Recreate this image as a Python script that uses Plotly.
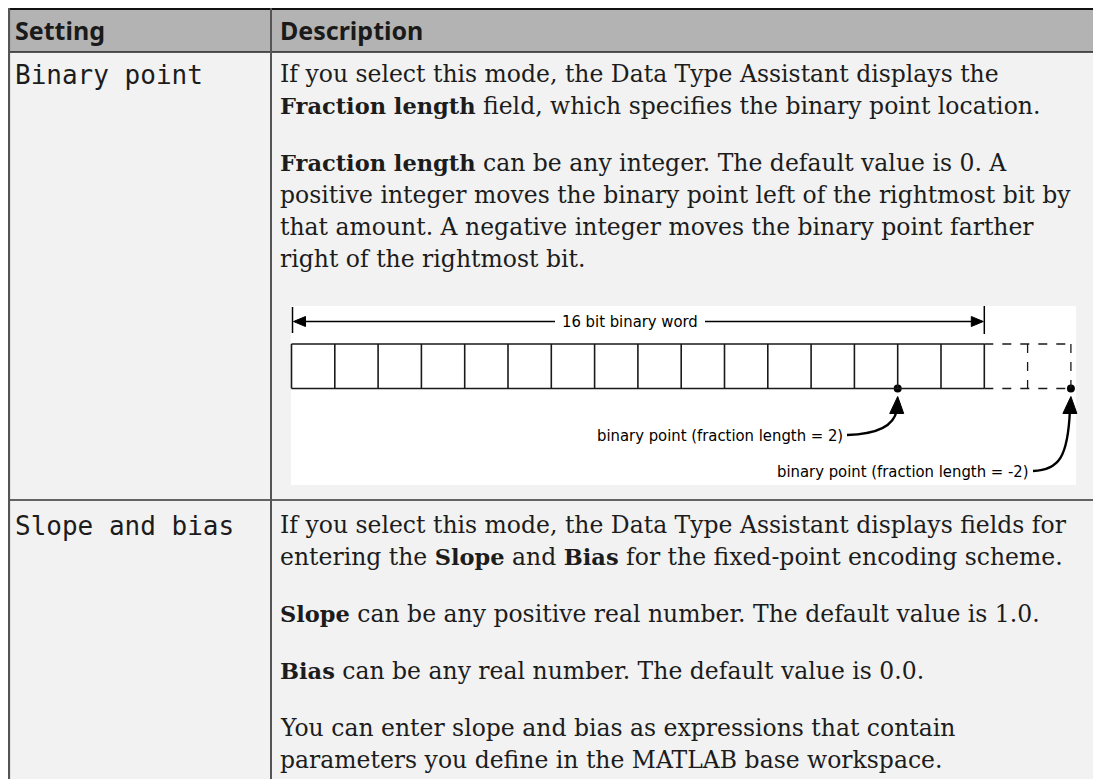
import plotly.graph_objects as go

# ---------------- data ----------------
headers = ["Setting", "Description"]
settings = ["Binary point", "Slope and bias"]

row1_lines = [
    "If you select this mode, the Data Type Assistant displays the",
    "<b>Fraction length</b> field, which specifies the binary point location.",
    None,
    "<b>Fraction length</b> can be any integer. The default value is 0. A",
    "positive integer moves the binary point left of the rightmost bit by",
    "that amount. A negative integer moves the binary point farther",
    "right of the rightmost bit.",
]
row2_lines = [
    "If you select this mode, the Data Type Assistant displays fields for",
    "entering the <b>Slope</b> and <b>Bias</b> for the fixed-point encoding scheme.",
    None,
    "<b>Slope</b> can be any positive real number. The default value is 1.0.",
    None,
    "<b>Bias</b> can be any real number. The default value is 0.0.",
    None,
    "You can enter slope and bias as expressions that contain",
    "parameters you define in the MATLAB base workspace.",
]

word_bits = 16
extra_bits = 2
fraction_lengths = [2, -2]
word_label = "16 bit binary word"
point_labels = ["binary point (fraction length = 2)", "binary point (fraction length = -2)"]

# ---------------- layout constants (page pixel coordinates) ----------------
W, H = 1101, 779
PAGE_OFF = 8           # default body margin of the html page
TL, TT = 8, 8
HDR_B = 52
COL = 271
ROW_B = 500
TXT_X = 278
SET_X = 13
LINE = 32
PARA = 25

serif = "DejaVu Serif"
mono = "DejaVu Sans Mono"
sans = "Noto Sans"
diag_font = "Liberation Sans Narrow, DejaVu Sans Condensed, sans-serif"
txt_col = "#1c1c1c"
FS = 23.5
FS_BOLD = 22.5

shapes = []
annotations = []

def line(x0, y0, x1, y1, color="#000", width=1.5, dash="solid"):
    shapes.append(dict(type="line", xref="x", yref="y", x0=x0, y0=y0, x1=x1, y1=y1,
                       line=dict(color=color, width=width, dash=dash), layer="above"))

def rect(x0, y0, x1, y1, fill, layer="below"):
    shapes.append(dict(type="rect", xref="x", yref="y", x0=x0, y0=y0, x1=x1, y1=y1,
                       fillcolor=fill, line=dict(color=fill, width=0), layer=layer))

def path(d, fill=None, lc="#000", lw=1.5):
    s = dict(type="path", xref="x", yref="y", path=d, line=dict(color=lc, width=lw), layer="above")
    if fill:
        s["fillcolor"] = fill
    shapes.append(s)

def text(x, y, t, font, size, color=txt_col, xanchor="left", bold=False):
    annotations.append(dict(x=x, y=y, xref="x", yref="y", text=(f"<b>{t}</b>" if bold else t),
                            showarrow=False, xanchor=xanchor, yanchor="middle",
                            font=dict(family=font, size=size, color=color)))

# backgrounds
rect(TL, TT, W, HDR_B, "#b3b3b3")
rect(TL, HDR_B, W, H, "#f2f2f2")

# borders
line(TL, TT + 1, W, TT + 1, "#111", 2)
line(TL, HDR_B, W, HDR_B, "#222", 1.6)
line(TL, ROW_B, W, ROW_B, "#333", 1.6)
line(TL + 1, TT, TL + 1, H, "#555", 2.2)
line(COL, TT, COL, H, "#555", 2)

# headers
text(SET_X, 30, headers[0], sans, 25, "#1a1a1a", bold=True)
text(TXT_X, 30, headers[1], sans, 25, "#1a1a1a", bold=True)

# setting names
text(SET_X, 75, settings[0], mono, 26)
text(SET_X, 526, settings[1], mono, 26)

def body(lines, y0):
    y = y0
    for ln in lines:
        if ln is None:
            y += PARA
            continue
        t = ln.replace("<b>", f'<b><span style="font-size:{FS_BOLD}px">').replace("</b>", "</span></b>")
        text(TXT_X, y, t, serif, FS)
        y += LINE

body(row1_lines, 74)
body(row2_lines, 525)

# ---------------- diagram ----------------
BX0, BY0, BX1, BY1 = 291, 306, 1076, 485
rect(BX0, BY0, BX1, BY1, "#ffffff", layer="below")
CX0 = 291.5
CW = 43.3
CY0, CY1 = 344, 388.5

cells_x = [CX0 + i * CW for i in range(word_bits + extra_bits + 1)]
x_word_end = cells_x[word_bits]
x_all_end = cells_x[-1]

# solid cells (the 16-bit word)
line(CX0, CY0, x_word_end, CY0, "#1a1a1a", 1.6)
line(CX0, CY1, x_word_end, CY1, "#1a1a1a", 1.6)
for i in range(word_bits + 1):
    line(cells_x[i], CY0, cells_x[i], CY1, "#1a1a1a", 1.6)
# dashed cells beyond the word
line(x_word_end, CY0, x_all_end, CY0, "#1a1a1a", 1.3, "dash")
line(x_word_end, CY1, x_all_end, CY1, "#1a1a1a", 1.3, "dash")
for i in range(word_bits + 1, word_bits + extra_bits + 1):
    line(cells_x[i], CY0, cells_x[i], CY1, "#1a1a1a", 1.3, "dash")

# word-length arrow
AY = 321.5
line(CX0 + 1, 307, CX0 + 1, 333, "#000", 1.5)
line(x_word_end, 306, x_word_end, 334, "#000", 1.5)
line(CX0 + 12, AY, 555, AY, "#000", 1.4)
line(705, AY, x_word_end - 12, AY, "#000", 1.4)
path(f"M {CX0+2} {AY} L {CX0+14} {AY-5} L {CX0+14} {AY+5} Z", fill="#000", lw=1)
path(f"M {x_word_end-1} {AY} L {x_word_end-13} {AY-5} L {x_word_end-13} {AY+5} Z", fill="#000", lw=1)
text(630, AY, word_label, diag_font, 16.5, "#000", xanchor="center")

# binary points
pts_x = [cells_x[word_bits - f] for f in fraction_lengths]
fig = go.Figure()
fig.add_trace(go.Scatter(x=pts_x, y=[CY1] * len(pts_x), mode="markers",
                         marker=dict(size=8, color="#000"), hoverinfo="skip", showlegend=False))

label_y = [435, 471]
label_end = [845, 1031]
for px, ly, le, lab in zip(pts_x, label_y, label_end, point_labels):
    text(le, ly, lab, diag_font, 16.5, "#000", xanchor="right")
    path(f"M {le+2} {ly} C {px-12} {ly-1}, {px-3} {ly-14}, {px-1} {CY1+22}", lc="#000", lw=2.4)
    path(f"M {px} {CY1+8} L {px-8} {CY1+25} L {px+6} {CY1+25} Z", fill="#000", lw=1)

fig.update_layout(
    width=W - PAGE_OFF, height=H - PAGE_OFF, margin=dict(l=0, r=0, t=0, b=0),
    paper_bgcolor="#ffffff", plot_bgcolor="rgba(0,0,0,0)",
    xaxis=dict(range=[PAGE_OFF, W], visible=False, fixedrange=True),
    yaxis=dict(range=[H, PAGE_OFF], visible=False, fixedrange=True),
    shapes=shapes, annotations=annotations, showlegend=False,
)
fig.write_html("out.html", config={"displayModeBar": False})
